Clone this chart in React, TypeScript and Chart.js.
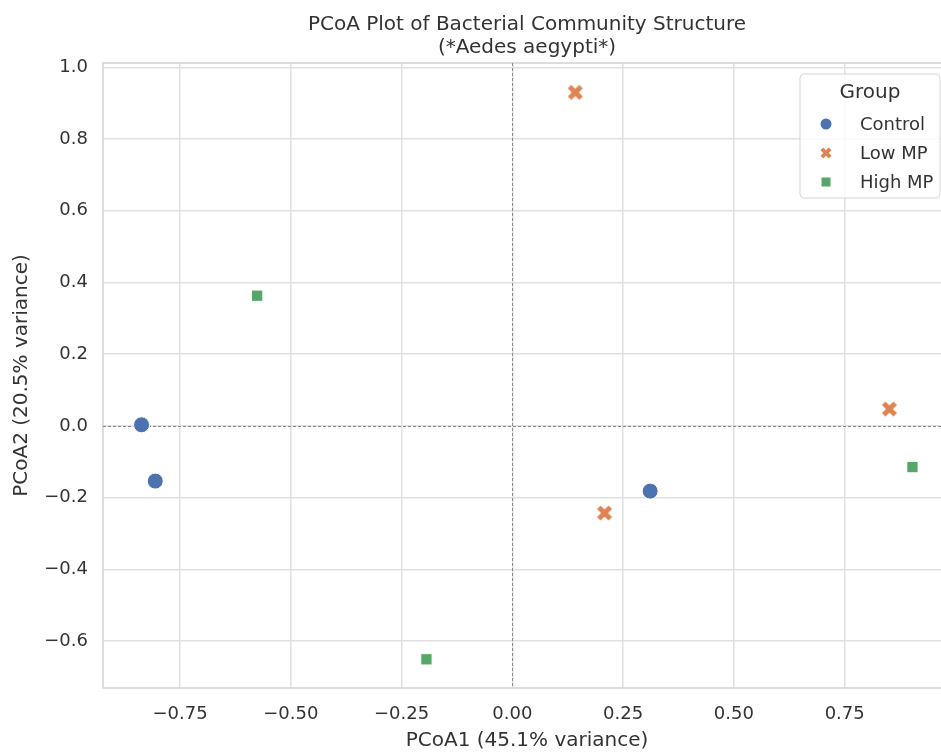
import React, { useEffect, useRef } from "react";
import { Chart, registerables } from "chart.js";

Chart.register(...registerables);

const groups = ["Control", "Low MP", "High MP"];
const controlX = [-0.837, -0.806, 0.311];
const controlY = [0.003, -0.154, -0.182];
const lowX = [0.142, 0.208, 0.851];
const lowY = [0.93, -0.243, 0.047];
const highX = [-0.576, -0.194, 0.903];
const highY = [0.363, -0.651, -0.115];
const xTicks = [-0.75, -0.5, -0.25, 0, 0.25, 0.5, 0.75];
const yTicks = [-0.6, -0.4, -0.2, 0, 0.2, 0.4, 0.6, 0.8, 1.0];
const colors = ["#4C72B0", "#DD8452", "#55A868"];
const titleLines = ["PCoA Plot of Bacterial Community Structure", "(*Aedes aegypti*)"];
const xLabel = "PCoA1 (45.1% variance)";
const yLabel = "PCoA2 (20.5% variance)";
const legendTitle = "Group";

const FONT = "'DejaVu Sans', sans-serif";
const TEXT = "#333333";
const GRID = "#e0e0e0";
const EDGE = "#d2d2d2";

function drawX(ctx: CanvasRenderingContext2D, cx: number, cy: number, ext: number, w: number, color: string) {
  const L = ext * Math.SQRT2 - w;
  ctx.save();
  ctx.translate(cx, cy);
  ctx.rotate(Math.PI / 4);
  ctx.fillStyle = color;
  ctx.fillRect(-L / 2, -w / 2, L, w);
  ctx.fillRect(-w / 2, -L / 2, w, L);
  ctx.restore();
}

function makeXCanvas(ext: number, w: number, color: string) {
  const c = document.createElement("canvas");
  c.width = 20;
  c.height = 20;
  const ctx = c.getContext("2d")!;
  drawX(ctx, 10, 10, ext, w, color);
  return c;
}

const decorPlugin = {
  id: "decor",
  beforeDatasetsDraw(chart: any) {
    const { ctx, chartArea: a, scales } = chart;
    ctx.save();
    ctx.strokeStyle = EDGE;
    ctx.lineWidth = 1.5;
    ctx.strokeRect(a.left, a.top, a.right - a.left, a.bottom - a.top);
    ctx.strokeStyle = "#8a8a8a";
    ctx.lineWidth = 1;
    ctx.setLineDash([3, 2]);
    const x0 = Math.round(scales.x.getPixelForValue(0)) + 0.5;
    const y0 = Math.round(scales.y.getPixelForValue(0)) + 0.5;
    ctx.beginPath();
    ctx.moveTo(x0, a.top);
    ctx.lineTo(x0, a.bottom);
    ctx.moveTo(a.left, y0);
    ctx.lineTo(a.right, y0);
    ctx.stroke();
    ctx.restore();
  },
  afterDraw(chart: any) {
    const { ctx, chartArea: a } = chart;
    ctx.save();
    // Title
    const cx = (a.left + a.right) / 2;
    ctx.fillStyle = TEXT;
    ctx.font = `20px ${FONT}`;
    ctx.textAlign = "center";
    ctx.textBaseline = "alphabetic";
    ctx.fillText(titleLines[0], cx, 30);
    ctx.fillText(titleLines[1], cx, 53);

    // Legend
    const lx = 800, ly = 74, lw = 140, lh = 124;
    ctx.beginPath();
    ctx.roundRect(lx, ly, lw, lh, 4);
    ctx.fillStyle = "rgba(255,255,255,0.8)";
    ctx.fill();
    ctx.strokeStyle = "#d6d6d6";
    ctx.lineWidth = 1;
    ctx.stroke();

    ctx.fillStyle = TEXT;
    ctx.font = `20px ${FONT}`;
    ctx.textAlign = "center";
    ctx.fillText(legendTitle, lx + lw / 2, 98);

    const rows = [124, 153, 182];
    ctx.font = `18px ${FONT}`;
    ctx.textAlign = "left";
    ctx.textBaseline = "middle";
    groups.forEach((g, i) => {
      const my = rows[i];
      const mx = 826;
      if (i === 0) {
        ctx.beginPath();
        ctx.arc(mx, my, 5.5, 0, Math.PI * 2);
        ctx.fillStyle = colors[0];
        ctx.fill();
      } else if (i === 1) {
        drawX(ctx, mx, my, 11, 3.8, colors[1]);
      } else {
        ctx.fillStyle = colors[2];
        ctx.fillRect(mx - 4.5, my - 4.5, 9, 9);
      }
      ctx.fillStyle = TEXT;
      ctx.fillText(g, 860, my + 1);
    });
    ctx.restore();
  },
};

const fmtMinus = (s: string) => s.replace("-", "\u2212");

export default function App() {
  const ref = useRef<HTMLCanvasElement>(null);

  useEffect(() => {
    if (!ref.current) return;
    const xImg = makeXCanvas(15, 5, colors[1]);
    const chart = new Chart(ref.current, {
      type: "scatter",
      data: {
        datasets: [
          {
            label: groups[0],
            data: controlX.map((x, i) => ({ x, y: controlY[i] })),
            backgroundColor: colors[0],
            borderColor: "#ffffff",
            borderWidth: 1,
            pointStyle: "circle",
            pointRadius: 8,
          },
          {
            label: groups[1],
            data: lowX.map((x, i) => ({ x, y: lowY[i] })),
            backgroundColor: colors[1],
            borderColor: colors[1],
            pointStyle: xImg as any,
            pointRadius: 8,
          },
          {
            label: groups[2],
            data: highX.map((x, i) => ({ x, y: highY[i] })),
            backgroundColor: colors[2],
            borderColor: "#ffffff",
            borderWidth: 1,
            pointStyle: "rect",
            pointRadius: 8,
          },
        ],
      },
      options: {
        responsive: false,
        animation: false,
        layout: { padding: { top: 63, right: 9, left: 0, bottom: 0 } },
        plugins: {
          legend: { display: false },
          title: { display: false },
          tooltip: { enabled: false },
        },
        scales: {
          x: {
            type: "linear",
            min: -0.924,
            max: 0.99,
            afterBuildTicks: (s: any) => {
              s.ticks = xTicks.map((v) => ({ value: v }));
            },
            afterFit: (s: any) => {
              s.height = 66;
            },
            grid: { color: GRID, lineWidth: 1.5, drawTicks: false },
            border: { display: false },
            ticks: {
              font: { family: FONT, size: 18 },
              color: TEXT,
              padding: 16,
              maxRotation: 0,
              callback: (v: any) => fmtMinus(Number(v).toFixed(2)),
            },
            title: {
              display: true,
              text: xLabel,
              font: { family: FONT, size: 20 },
              color: TEXT,
              padding: { top: 0, bottom: 1 },
            },
          },
          y: {
            type: "linear",
            min: -0.731,
            max: 1.012,
            afterBuildTicks: (s: any) => {
              s.ticks = yTicks.map((v) => ({ value: v }));
            },
            afterFit: (s: any) => {
              s.width = 103;
            },
            grid: { color: GRID, lineWidth: 1.5, drawTicks: false },
            border: { display: false },
            ticks: {
              font: { family: FONT, size: 18 },
              color: TEXT,
              padding: 15,
              callback: (v: any) => fmtMinus(Number(v).toFixed(1)),
            },
            title: {
              display: true,
              text: yLabel,
              font: { family: FONT, size: 20 },
              color: TEXT,
              padding: { top: 10, bottom: 0 },
            },
          },
        },
      },
      plugins: [decorPlugin],
    });
    return () => chart.destroy();
  }, []);

  return (
    <div style={{ position: "absolute", left: 0, top: 0, width: 941, height: 754, overflow: "hidden", background: "#fff" }}>
      <canvas ref={ref} width={960} height={754} style={{ display: "block" }} />
    </div>
  );
}
